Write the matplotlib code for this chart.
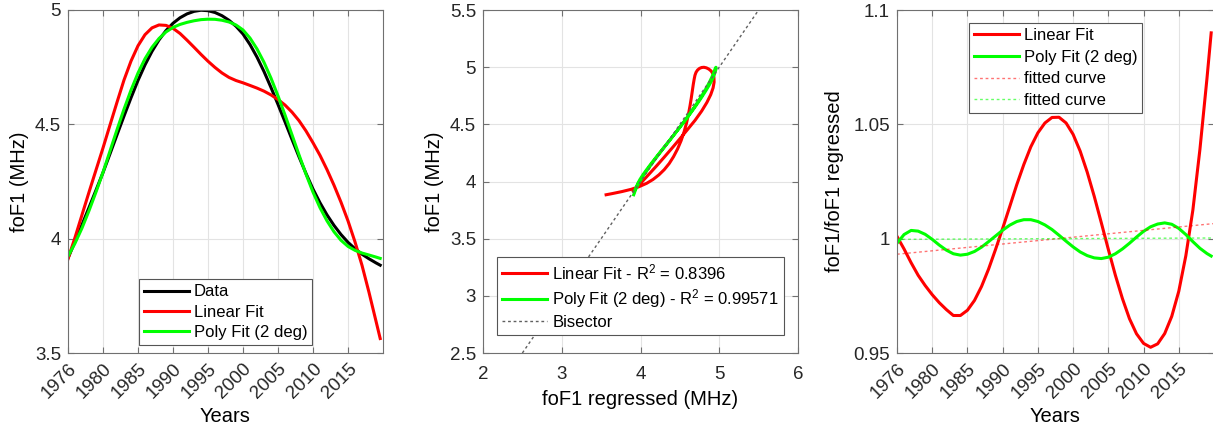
import numpy as np
import matplotlib.pyplot as plt

plt.rcParams['font.family'] = ['Liberation Sans', 'DejaVu Sans']
plt.rcParams['mathtext.fontset'] = 'custom'
plt.rcParams['mathtext.rm'] = 'Liberation Sans'
plt.rcParams['mathtext.it'] = 'Liberation Sans:italic'

# Data (yearly samples)
years = [1975, 1976, 1977, 1978, 1979, 1980, 1981, 1982, 1983, 1984,
         1985, 1986, 1987, 1988, 1989, 1990, 1991, 1992, 1993, 1994,
         1995, 1996, 1997, 1998, 1999, 2000, 2001, 2002, 2003, 2004,
         2005, 2006, 2007, 2008, 2009, 2010, 2011, 2012, 2013, 2014,
         2015, 2016, 2017, 2018, 2019, 2019.6]

fof1_data = [3.915, 3.987, 4.061, 4.136, 4.212, 4.289, 4.371, 4.454, 4.536, 4.616,
             4.692, 4.760, 4.819, 4.869, 4.910, 4.942, 4.966, 4.983, 4.994, 4.999,
             4.997, 4.989, 4.975, 4.955, 4.929, 4.895, 4.849, 4.794, 4.731, 4.661,
             4.587, 4.511, 4.434, 4.358, 4.285, 4.217, 4.157, 4.104, 4.058, 4.018,
             3.984, 3.956, 3.932, 3.912, 3.894, 3.884]

# foF1 / foF1 regressed (right panel)
ratio_linear = [1.001, 0.9955, 0.9895, 0.984, 0.9795, 0.9755, 0.972, 0.969, 0.9664, 0.9664,
                0.9687, 0.9730, 0.9791, 0.9867, 0.9954, 1.0045, 1.0140, 1.0236, 1.0324, 1.0402,
                1.0463, 1.0506, 1.0530, 1.0531, 1.0506, 1.0456, 1.0383, 1.0291, 1.0185, 1.0070,
                0.9953, 0.9840, 0.9738, 0.9650, 0.9584, 0.9542, 0.9525, 0.9540, 0.9585, 0.9660,
                0.9770, 0.9925, 1.0125, 1.0390, 1.0700, 1.0900]

ratio_poly = [0.998, 1.0018, 1.0036, 1.0033, 1.0019, 0.9997, 0.9972, 0.9950, 0.9934, 0.9928,
              0.9932, 0.9944, 0.9963, 0.9987, 1.0012, 1.0037, 1.0059, 1.0075, 1.0083, 1.0083,
              1.0075, 1.0060, 1.0040, 1.0015, 0.9989, 0.9964, 0.9942, 0.9926, 0.9916, 0.9913,
              0.9919, 0.9934, 0.9955, 0.9980, 1.0007, 1.0032, 1.0052, 1.0064, 1.0069, 1.0063,
              1.0045, 1.0018, 0.9987, 0.9958, 0.9935, 0.9924]

trend_years = [1975, 2020]
trend_linear = [0.9932, 1.0066]
trend_poly = [0.9997, 1.0003]

bisector = [2.5, 5.5]

year_ticks = [1975, 1980, 1985, 1990, 1995, 2000, 2005, 2010, 2015]
year_labels = ['1976', '1980', '1985', '1990', '1995', '2000', '2005', '2010', '2015']
fof1_ticks = [3.5, 4, 4.5, 5]
fof1_labels = ['3.5', '4', '4.5', '5']
scatter_xticks = [2, 3, 4, 5, 6]
scatter_yticks = [2.5, 3, 3.5, 4, 4.5, 5, 5.5]
scatter_ylabels = ['2.5', '3', '3.5', '4', '4.5', '5', '5.5']
ratio_ticks = [0.95, 1.0, 1.05, 1.1]
ratio_labels = ['0.95', '1', '1.05', '1.1']

fof1_data = np.array(fof1_data)
linear_fit = fof1_data / np.array(ratio_linear)
poly_fit = fof1_data / np.array(ratio_poly)

RED = '#ff0000'
GREEN = '#00ff00'
LW = 2.2
TICK_FS = 13.5
LABEL_FS = 14.5
LEG_FS = 12


def style_axes(ax):
    ax.grid(True, color='#e3e3e3', linewidth=0.8)
    ax.set_axisbelow(True)
    for sp in ax.spines.values():
        sp.set_color('#707070')
        sp.set_linewidth(0.8)
    ax.tick_params(direction='in', top=True, right=True, length=4,
                   color='#707070', labelcolor='#262626', labelsize=TICK_FS,
                   pad=5)


def legend(ax, spacing, **kw):
    leg = ax.legend(fontsize=LEG_FS, fancybox=False, framealpha=1,
                    edgecolor='#555555', borderaxespad=0, handlelength=2.7,
                    handletextpad=0.3, labelspacing=spacing, borderpad=0.3,
                    **kw)
    leg.get_frame().set_linewidth(0.8)
    return leg


fig = plt.figure(figsize=(12.13, 4.36), dpi=100)
H = 436.0
W = 1213.0

# left panel: time series
ax1 = fig.add_axes([68 / W, 83 / H, 315 / W, 343 / H])
ax1.plot(years, fof1_data, color='black', lw=LW, label='Data')
ax1.plot(years, linear_fit, color=RED, lw=LW, label='Linear Fit')
ax1.plot(years, poly_fit, color=GREEN, lw=LW, label='Poly Fit (2 deg)')
ax1.set_xlim(1975, 2020)
ax1.set_ylim(3.5, 5)
ax1.set_xticks(year_ticks)
ax1.set_xticklabels(year_labels, rotation=45, ha='right', va='top',
                    rotation_mode='anchor')
ax1.set_yticks(fof1_ticks)
ax1.set_yticklabels(fof1_labels)
ax1.set_xlabel('Years', fontsize=LABEL_FS)
ax1.set_ylabel('foF1 (MHz)', fontsize=LABEL_FS)
style_axes(ax1)
legend(ax1, 0.32, loc='lower center', bbox_to_anchor=(0.5, 0.023))

# middle panel: data vs regressed
ax2 = fig.add_axes([483 / W, 83 / H, 315 / W, 343 / H])
ax2.plot(linear_fit, fof1_data, color=RED, lw=LW,
         label='Linear Fit - R$^2$ = 0.8396')
ax2.plot(poly_fit, fof1_data, color=GREEN, lw=LW,
         label='Poly Fit (2 deg) - R$^2$ = 0.99571')
ax2.plot(bisector, bisector, color='#606060', lw=1, linestyle=(0, (2, 2)),
         label='Bisector')
ax2.set_xlim(2, 6)
ax2.set_ylim(2.5, 5.5)
ax2.set_xticks(scatter_xticks)
ax2.set_yticks(scatter_yticks)
ax2.set_yticklabels(scatter_ylabels)
ax2.set_xlabel('foF1 regressed (MHz)', fontsize=LABEL_FS, labelpad=5)
ax2.set_ylabel('foF1 (MHz)', fontsize=LABEL_FS)
style_axes(ax2)
ax2.tick_params(axis='x', pad=9.5)
legend(ax2, 0.3, loc='lower center', bbox_to_anchor=(0.5, 0.052))

# right panel: ratio
ax3 = fig.add_axes([897 / W, 83 / H, 317 / W, 343 / H])
ax3.plot(years, ratio_linear, color=RED, lw=LW, label='Linear Fit')
ax3.plot(years, ratio_poly, color=GREEN, lw=LW, label='Poly Fit (2 deg)')
ax3.plot(trend_years, trend_linear, color=RED, alpha=0.55, lw=1,
         linestyle=(0, (2, 2)), label='fitted curve')
ax3.plot(trend_years, trend_poly, color=GREEN, alpha=0.6, lw=1,
         linestyle=(0, (2, 2)), label='fitted curve')
ax3.set_xlim(1975, 2020)
ax3.set_ylim(0.95, 1.1)
ax3.set_xticks(year_ticks)
ax3.set_xticklabels(year_labels, rotation=45, ha='right', va='top',
                    rotation_mode='anchor')
ax3.set_yticks(ratio_ticks)
ax3.set_yticklabels(ratio_labels)
ax3.set_xlabel('Years', fontsize=LABEL_FS)
ax3.set_ylabel('foF1/foF1 regressed', fontsize=LABEL_FS, labelpad=7)
style_axes(ax3)
legend(ax3, 0.4, loc='upper center', bbox_to_anchor=(0.5, 1 - 0.038))

fig.savefig('out.png', dpi=100)
